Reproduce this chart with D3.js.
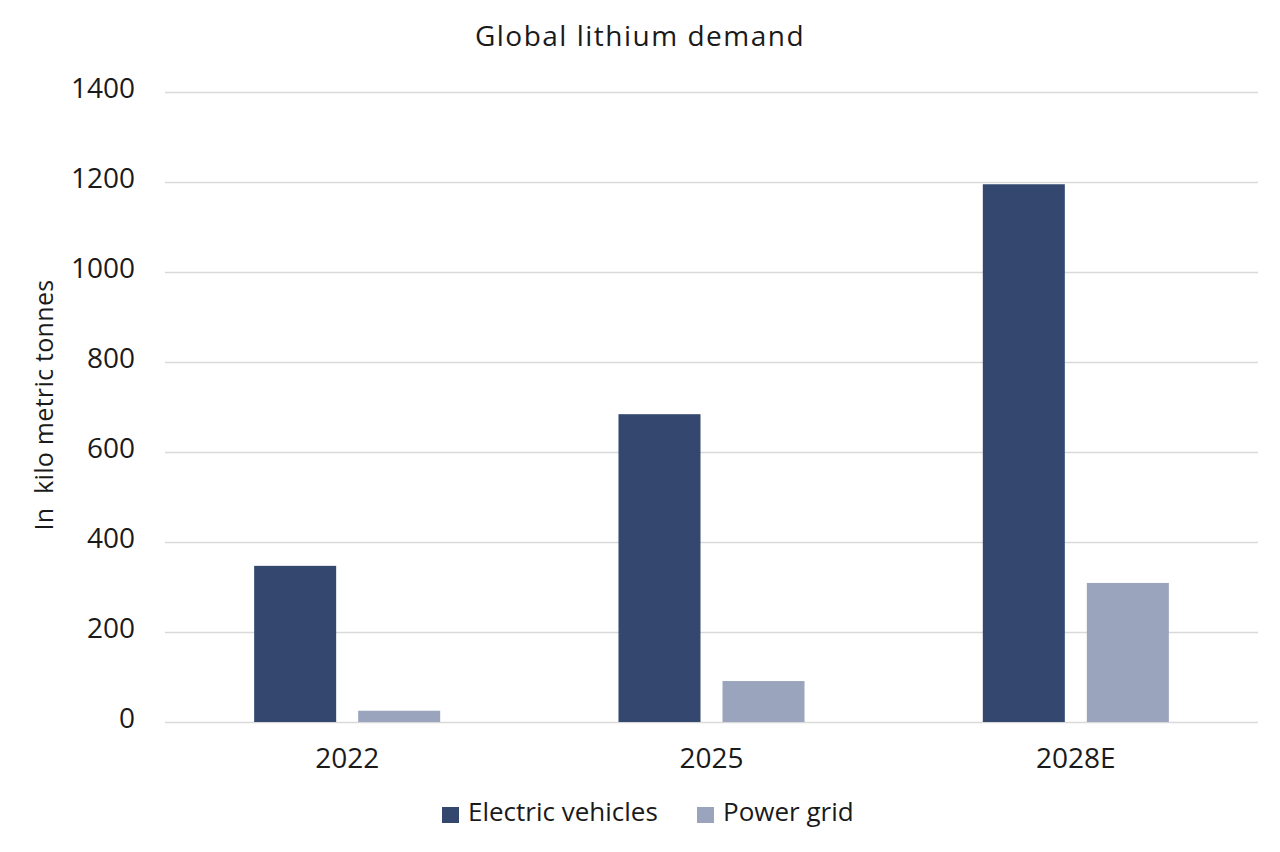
<!DOCTYPE html>
<html><head><meta charset="utf-8">
<script src="https://cdn.jsdelivr.net/npm/d3@7"></script>
<style>body{margin:0;background:#fff;} svg{display:block;font-family:"Open Sans",sans-serif;}</style>
</head><body>
<svg id="c" width="1280" height="852"></svg>
<script>
const categories = ["2022", "2025", "2028E"];
const seriesNames = ["Electric vehicles", "Power grid"];
const electricVehicles = [347, 684, 1195];
const powerGrid = [25, 91, 309];
const yTicks = [0, 200, 400, 600, 800, 1000, 1200, 1400];
const colors = ["#34486f", "#9aa5bd"];

const svg = d3.select("#c");
const m = {left: 165, right: 1258, top: 92, bottom: 722};
const y = d3.scaleLinear().domain([0, 1400]).range([m.bottom, m.top]);
const x0 = d3.scaleBand().domain(categories).range([m.left, m.right]).padding(0);
const x1 = d3.scaleBand().domain(seriesNames).range([0, x0.bandwidth()]).paddingInner(0.2115).paddingOuter(0.857);
const values = [electricVehicles, powerGrid];

// gridlines + y tick labels
const yAxis = d3.axisLeft(y).tickValues(yTicks).tickSize(-(m.right - m.left)).tickPadding(30).tickFormat(d3.format("d"));
const ga = svg.append("g").attr("transform", `translate(${m.left},0)`).call(yAxis);
ga.select(".domain").remove();
ga.selectAll(".tick line").attr("stroke", "#d9d9d9").attr("stroke-width", 1.3);
ga.selectAll(".tick text").attr("font-size", 28).attr("dy", "0.2em").attr("fill", "#1a1a1a").attr("font-family", "Open Sans");

// bars
categories.forEach((c, i) => {
  seriesNames.forEach((s, j) => {
    svg.append("rect")
      .attr("x", x0(c) + x1(s))
      .attr("y", y(values[j][i]))
      .attr("width", x1.bandwidth())
      .attr("height", y(0) - y(values[j][i]))
      .attr("fill", colors[j]);
  });
});

// x axis labels
const xAxis = d3.axisBottom(x0).tickSize(0).tickPadding(26);
const gx = svg.append("g").attr("transform", `translate(0,${m.bottom})`).call(xAxis);
gx.select(".domain").remove();
gx.selectAll(".tick text").attr("font-size", 28).attr("fill", "#1a1a1a").attr("font-family", "Open Sans");

// title
svg.append("text").attr("x", 640).attr("y", 46).attr("text-anchor", "middle")
  .attr("font-size", 28).attr("letter-spacing", 1.5).attr("fill", "#1a1a1a").text("Global lithium demand");

// y label
svg.append("text").attr("transform", "translate(53,405) rotate(-90)").attr("text-anchor", "middle")
  .style("white-space", "pre")
  .attr("font-size", 25).attr("letter-spacing", 0.3).attr("fill", "#1a1a1a").text("In  kilo metric tonnes");

// legend
const legendX = [442, 697];
seriesNames.forEach((s, j) => {
  svg.append("rect").attr("x", legendX[j]).attr("y", 807).attr("width", 17).attr("height", 16).attr("fill", colors[j]);
  svg.append("text").attr("x", legendX[j] + 26).attr("y", 821).attr("font-size", 26).attr("letter-spacing", 0).attr("fill", "#1a1a1a").text(s);
});
</script>
</body></html>
